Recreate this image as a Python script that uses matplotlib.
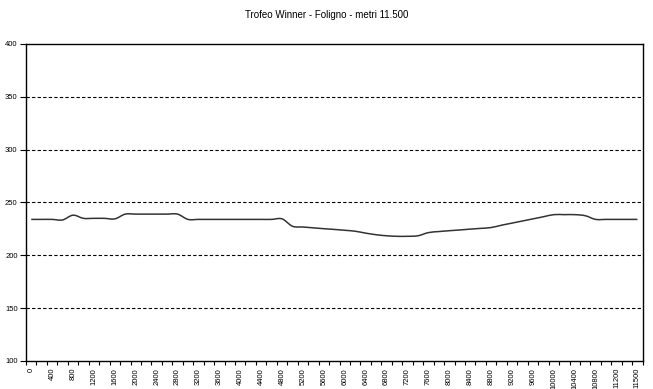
import matplotlib
matplotlib.use('Agg')
import matplotlib.pyplot as plt
from matplotlib.path import Path
from matplotlib.patches import PathPatch
import numpy as np

plt.rcParams['font.family'] = ['Liberation Sans', 'DejaVu Sans']

# distances (m) of each category, last one is the finish at 11500
distances = list(range(0, 11500, 200)) + [11500]
# altitude (m)
altitude = [234, 234, 234, 233.5, 238, 235, 235, 235, 234.5, 239,
            239, 239, 239, 239, 239, 234, 234, 234, 234, 234,
            234, 234, 234, 234, 234.5, 227.5, 226.8, 226, 225.2, 224.5,
            223.7, 222.8, 221, 219.5, 218.5, 218, 218, 218.5, 221.5, 222.5,
            223.3, 224, 224.8, 225.5, 226.3, 228.5, 230.5, 232.5, 234.5, 236.5,
            238.5, 238.5, 238.5, 237.5, 234, 234, 234, 234, 234]
title = 'Trofeo Winner - Foligno - metri 11.500'

def smooth_path(xs, ys, t=1/6.):
    # smoothed line like a spreadsheet chart: cubic bezier through the points
    verts = [(xs[0], ys[0])]
    codes = [Path.MOVETO]
    n = len(xs)
    for i in range(n - 1):
        p0 = (xs[max(i - 1, 0)], ys[max(i - 1, 0)])
        p1 = (xs[i], ys[i])
        p2 = (xs[i + 1], ys[i + 1])
        p3 = (xs[min(i + 2, n - 1)], ys[min(i + 2, n - 1)])
        c1 = (p1[0] + (p2[0] - p0[0]) * t, p1[1] + (p2[1] - p0[1]) * t)
        c2 = (p2[0] - (p3[0] - p1[0]) * t, p2[1] - (p3[1] - p1[1]) * t)
        verts += [c1, c2, p2]
        codes += [Path.CURVE4] * 3
    return Path(verts, codes)

fig = plt.figure(figsize=(6.53, 3.89), dpi=100)
ax = fig.add_axes([0.0398, 0.072, 0.9444, 0.8149])

x = np.arange(len(distances))
ax.add_patch(PathPatch(smooth_path(x, altitude), facecolor='none',
                       edgecolor='#333333', lw=1.1))

ax.set_xlim(-0.5, len(distances) - 0.5)
ax.set_ylim(100, 400)

ax.set_yticks(range(100, 401, 50))
ax.tick_params(axis='y', labelsize=5.5, length=4, width=0.8, pad=2)
for v in range(150, 400, 50):
    ax.axhline(v, color='black', lw=0.8, ls=(0, (3, 2)), zorder=0)

ax.set_xticks(x[::2])
ax.set_xticklabels([str(d) for d in distances[::2]], rotation=90,
                   fontsize=5.5)
ax.set_xticks(np.arange(-0.5, len(distances), 1), minor=True)
ax.tick_params(axis='x', which='major', length=0, pad=5)
ax.tick_params(axis='x', which='minor', length=3, width=0.8)

for s in ax.spines.values():
    s.set_linewidth(1.0)
    s.set_color('black')

fig.text(0.5, 0.962, title, ha='center', va='center', fontsize=7)

fig.savefig('out.png', dpi=100)
